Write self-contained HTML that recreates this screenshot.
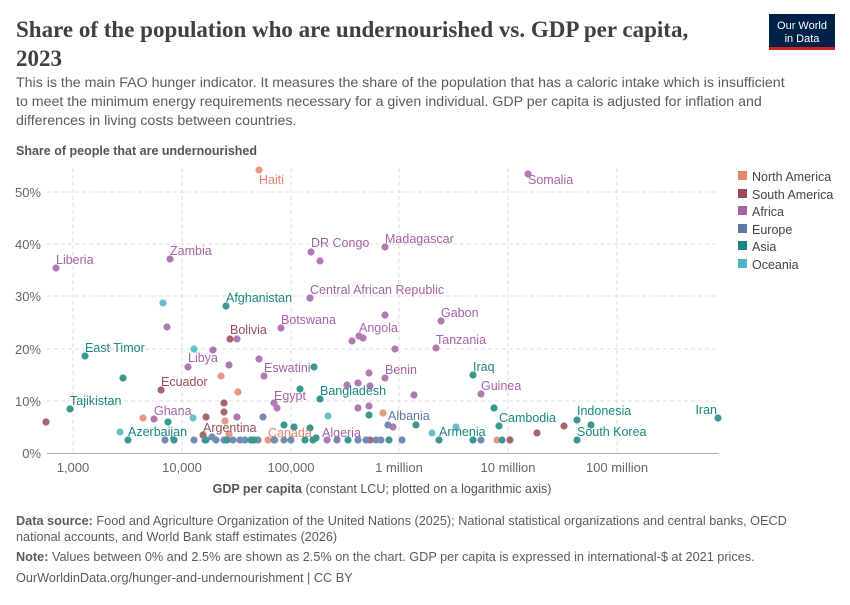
<!DOCTYPE html>
<html><head><meta charset="utf-8"><style>
body{margin:0;background:#fff;width:850px;height:600px;overflow:hidden}
svg text{font-family:"Liberation Sans",sans-serif}
</style></head><body>
<svg width="850" height="600" xmlns="http://www.w3.org/2000/svg">
<text x="16" y="37" font-size="23" font-weight="bold" fill="#404040" style="font-family:'Liberation Serif',serif">Share of the population who are undernourished vs. GDP per capita,</text>
<text x="16" y="66" font-size="23" font-weight="bold" fill="#404040" style="font-family:'Liberation Serif',serif">2023</text>
<rect x="769" y="14" width="66" height="33" fill="#002147"/>
<rect x="769" y="47" width="66" height="3" fill="#ce261e"/>
<text x="802" y="29" font-size="11" fill="#fff" text-anchor="middle">Our World</text>
<text x="802" y="42" font-size="11" fill="#fff" text-anchor="middle">in Data</text>
<g font-size="14.2" fill="#5b5b5b">
<text x="16" y="87">This is the main FAO hunger indicator. It measures the share of the population that has a caloric intake which is insufficient</text>
<text x="16" y="106">to meet the minimum energy requirements necessary for a given individual. GDP per capita is adjusted for inflation and</text>
<text x="16" y="125">differences in living costs between countries.</text>
</g>
<text x="16" y="155" font-size="12.5" font-weight="bold" fill="#555">Share of people that are undernourished</text>
<g stroke="#ddd" stroke-dasharray="4,3" stroke-width="1">
<line x1="47" y1="192" x2="718" y2="192"/><line x1="47" y1="244" x2="718" y2="244"/><line x1="47" y1="296" x2="718" y2="296"/><line x1="47" y1="349" x2="718" y2="349"/><line x1="47" y1="401" x2="718" y2="401"/>
<line x1="73" y1="168" x2="73" y2="453"/><line x1="182" y1="168" x2="182" y2="453"/><line x1="291" y1="168" x2="291" y2="453"/><line x1="399" y1="168" x2="399" y2="453"/><line x1="508" y1="168" x2="508" y2="453"/><line x1="617" y1="168" x2="617" y2="453"/>
</g>
<line x1="47" y1="453.5" x2="718" y2="453.5" stroke="#aaa"/>
<g font-size="13" fill="#666" text-anchor="end">
<text x="41" y="197">50%</text><text x="41" y="249">40%</text><text x="41" y="301">30%</text><text x="41" y="354">20%</text><text x="41" y="406">10%</text><text x="41" y="458">0%</text>
</g>
<g font-size="13" fill="#666" text-anchor="middle">
<text x="73" y="472">1,000</text><text x="182" y="472">10,000</text><text x="291" y="472">100,000</text><text x="399" y="472">1 million</text><text x="508" y="472">10 million</text><text x="617" y="472">100 million</text>
</g>
<text x="382" y="493" font-size="12.5" fill="#555" text-anchor="middle"><tspan font-weight="bold">GDP per capita</tspan> (constant LCU; plotted on a logarithmic axis)</text>
<g opacity="0.85">
<g fill="#e6846e"><circle cx="259" cy="170" r="3.6"/><circle cx="221" cy="376" r="3.6"/><circle cx="238" cy="392" r="3.6"/><circle cx="143" cy="418" r="3.6"/><circle cx="225" cy="421" r="3.6"/><circle cx="229" cy="434" r="3.6"/><circle cx="383" cy="413" r="3.6"/><circle cx="497" cy="440" r="3.6"/><circle cx="268" cy="440" r="3.6"/><circle cx="275" cy="440" r="3.6"/></g>
<g fill="#9a4b55"><circle cx="230" cy="339" r="3.6"/><circle cx="161" cy="390" r="3.6"/><circle cx="224" cy="403" r="3.6"/><circle cx="46" cy="422" r="3.6"/><circle cx="206" cy="417" r="3.6"/><circle cx="203" cy="435" r="3.6"/><circle cx="564" cy="426" r="3.6"/><circle cx="537" cy="433" r="3.6"/><circle cx="510" cy="440" r="3.6"/><circle cx="370" cy="440" r="3.6"/><circle cx="224" cy="412" r="3.6"/></g>
<g fill="#a561a6"><circle cx="56" cy="268" r="3.6"/><circle cx="170" cy="259" r="3.6"/><circle cx="311" cy="252" r="3.6"/><circle cx="320" cy="261" r="3.6"/><circle cx="385" cy="247" r="3.6"/><circle cx="310" cy="298" r="3.6"/><circle cx="167" cy="327" r="3.6"/><circle cx="281" cy="328" r="3.6"/><circle cx="237" cy="339" r="3.6"/><circle cx="359" cy="336" r="3.6"/><circle cx="363" cy="338" r="3.6"/><circle cx="352" cy="341" r="3.6"/><circle cx="385" cy="315" r="3.6"/><circle cx="395" cy="349" r="3.6"/><circle cx="213" cy="350" r="3.6"/><circle cx="188" cy="367" r="3.6"/><circle cx="229" cy="365" r="3.6"/><circle cx="259" cy="359" r="3.6"/><circle cx="264" cy="376" r="3.6"/><circle cx="274" cy="403" r="3.6"/><circle cx="277" cy="408" r="3.6"/><circle cx="385" cy="378" r="3.6"/><circle cx="369" cy="373" r="3.6"/><circle cx="358" cy="383" r="3.6"/><circle cx="347" cy="385" r="3.6"/><circle cx="370" cy="386" r="3.6"/><circle cx="414" cy="395" r="3.6"/><circle cx="358" cy="408" r="3.6"/><circle cx="369" cy="406" r="3.6"/><circle cx="154" cy="419" r="3.6"/><circle cx="237" cy="417" r="3.6"/><circle cx="393" cy="427" r="3.6"/><circle cx="528" cy="174" r="3.6"/><circle cx="441" cy="321" r="3.6"/><circle cx="436" cy="348" r="3.6"/><circle cx="481" cy="394" r="3.6"/><circle cx="327" cy="440" r="3.6"/></g>
<g fill="#5c77a8"><circle cx="263" cy="417" r="3.6"/><circle cx="388" cy="425" r="3.6"/><circle cx="481" cy="440" r="3.6"/><circle cx="165" cy="440" r="3.6"/><circle cx="194" cy="440" r="3.6"/><circle cx="205" cy="440" r="3.6"/><circle cx="212" cy="437" r="3.6"/><circle cx="216" cy="440" r="3.6"/><circle cx="224" cy="440" r="3.6"/><circle cx="233" cy="440" r="3.6"/><circle cx="240" cy="440" r="3.6"/><circle cx="245" cy="440" r="3.6"/><circle cx="252" cy="440" r="3.6"/><circle cx="258" cy="440" r="3.6"/><circle cx="284" cy="440" r="3.6"/><circle cx="291" cy="440" r="3.6"/><circle cx="337" cy="440" r="3.6"/><circle cx="358" cy="440" r="3.6"/><circle cx="366" cy="440" r="3.6"/><circle cx="376" cy="440" r="3.6"/><circle cx="381" cy="440" r="3.6"/><circle cx="402" cy="440" r="3.6"/><circle cx="274" cy="440" r="3.6"/></g>
<g fill="#18877d"><circle cx="226" cy="306" r="3.6"/><circle cx="85" cy="356" r="3.6"/><circle cx="314" cy="367" r="3.6"/><circle cx="123" cy="378" r="3.6"/><circle cx="300" cy="389" r="3.6"/><circle cx="320" cy="399" r="3.6"/><circle cx="369" cy="415" r="3.6"/><circle cx="70" cy="409" r="3.6"/><circle cx="168" cy="422" r="3.6"/><circle cx="416" cy="425" r="3.6"/><circle cx="284" cy="425" r="3.6"/><circle cx="294" cy="427" r="3.6"/><circle cx="310" cy="428" r="3.6"/><circle cx="128" cy="440" r="3.6"/><circle cx="174" cy="440" r="3.6"/><circle cx="206" cy="440" r="3.6"/><circle cx="227" cy="440" r="3.6"/><circle cx="251" cy="440" r="3.6"/><circle cx="254" cy="440" r="3.6"/><circle cx="305" cy="440" r="3.6"/><circle cx="313" cy="440" r="3.6"/><circle cx="316" cy="438" r="3.6"/><circle cx="348" cy="440" r="3.6"/><circle cx="389" cy="440" r="3.6"/><circle cx="473" cy="375" r="3.6"/><circle cx="494" cy="408" r="3.6"/><circle cx="499" cy="426" r="3.6"/><circle cx="577" cy="420" r="3.6"/><circle cx="591" cy="425" r="3.6"/><circle cx="577" cy="440" r="3.6"/><circle cx="718" cy="418" r="3.6"/><circle cx="439" cy="440" r="3.6"/><circle cx="473" cy="440" r="3.6"/><circle cx="502" cy="440" r="3.6"/></g>
<g fill="#4db6c4"><circle cx="163" cy="303" r="3.6"/><circle cx="194" cy="349" r="3.6"/><circle cx="328" cy="416" r="3.6"/><circle cx="193" cy="418" r="3.6"/><circle cx="120" cy="432" r="3.6"/><circle cx="432" cy="433" r="3.6"/><circle cx="456" cy="427" r="3.6"/></g>
</g>
<g font-size="12.5">
<g fill="#a561a6"><text x="56" y="264">Liberia</text><text x="170" y="255">Zambia</text><text x="311" y="247">DR Congo</text><text x="385" y="243">Madagascar</text><text x="310" y="294">Central African Republic</text><text x="281" y="324">Botswana</text><text x="359" y="332">Angola</text><text x="188" y="362">Libya</text><text x="264" y="372">Eswatini</text><text x="274" y="400">Egypt</text><text x="385" y="374">Benin</text><text x="154" y="415">Ghana</text><text x="322" y="437">Algeria</text><text x="528" y="184">Somalia</text><text x="441" y="317">Gabon</text><text x="436" y="344">Tanzania</text><text x="481" y="390">Guinea</text></g>
<text x="259" y="184" fill="#e6846e">Haiti</text><text x="268" y="437" fill="#e6846e">Canada</text>
<g fill="#9a4b55"><text x="230" y="334">Bolivia</text><text x="161" y="386">Ecuador</text><text x="203" y="432">Argentina</text></g>
<g fill="#18877d"><text x="226" y="302">Afghanistan</text><text x="85" y="352">East Timor</text><text x="320" y="395">Bangladesh</text><text x="70" y="405">Tajikistan</text><text x="128" y="436">Azerbaijan</text><text x="473" y="371">Iraq</text><text x="499" y="422">Cambodia</text><text x="577" y="415">Indonesia</text><text x="577" y="436">South Korea</text><text x="717" y="414" text-anchor="end">Iran</text><text x="439" y="436">Armenia</text></g>
<text x="388" y="420" fill="#5c77a8">Albania</text>
</g>
<g font-size="12.5" fill="#444">
<rect x="738" y="171" width="9" height="9" fill="#e6846e"/><text x="752" y="181">North America</text>
<rect x="738" y="189" width="9" height="9" fill="#9a4b55"/><text x="752" y="199">South America</text>
<rect x="738" y="206" width="9" height="9" fill="#a561a6"/><text x="752" y="216">Africa</text>
<rect x="738" y="224" width="9" height="9" fill="#5c77a8"/><text x="752" y="234">Europe</text>
<rect x="738" y="241" width="9" height="9" fill="#18877d"/><text x="752" y="251">Asia</text>
<rect x="738" y="259" width="9" height="9" fill="#4db6c4"/><text x="752" y="269">Oceania</text>
</g>
<g font-size="12.7" fill="#5b5b5b">
<text x="16" y="525"><tspan font-weight="bold">Data source:</tspan> Food and Agriculture Organization of the United Nations (2025); National statistical organizations and central banks, OECD</text>
<text x="16" y="541">national accounts, and World Bank staff estimates (2026)</text>
<text x="16" y="561"><tspan font-weight="bold">Note:</tspan> Values between 0% and 2.5% are shown as 2.5% on the chart. GDP per capita is expressed in international-$ at 2021 prices.</text>
<text x="16" y="582">OurWorldinData.org/hunger-and-undernourishment | CC BY</text>
</g>
</svg>
</body></html>
